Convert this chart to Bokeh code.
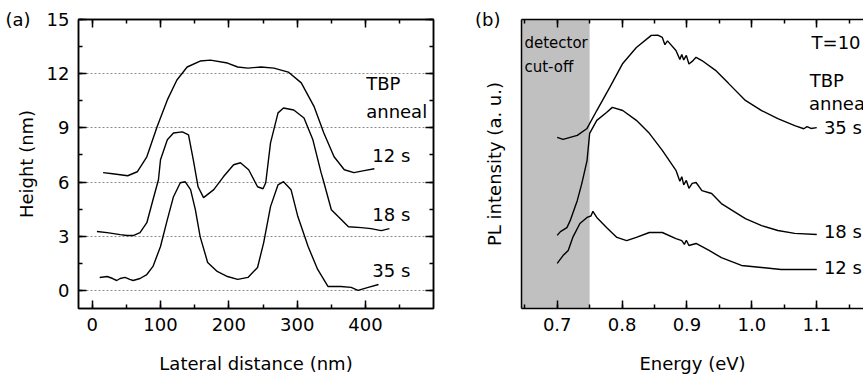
from bokeh.plotting import figure
from bokeh.layouts import row
from bokeh.models import (FixedTicker, SingleIntervalTicker, BasicTicker, LinearAxis, Range1d,
                          BoxAnnotation)
from bokeh.core.properties import value
from bokeh.embed import file_html
from bokeh.resources import INLINE

FONT = "DejaVu Sans"

# ---------------- Panel (a): AFM height profiles ----------------
dist_12s = [16, 30, 52, 66, 80, 95, 110, 124, 139, 158, 173, 198, 213, 228, 247, 266, 287, 306, 325, 339, 354, 369, 383, 398, 413]
height_12s = [6.52, 6.46, 6.35, 6.57, 7.40, 9.06, 10.55, 11.65, 12.37, 12.70, 12.75, 12.59, 12.37, 12.31, 12.37, 12.31, 12.09, 11.49, 10.16, 8.72, 7.40, 6.68, 6.52, 6.63, 6.74]

dist_18s = [7, 22, 41, 51, 60, 70, 80, 89, 97, 100, 110, 119, 132, 141, 148, 155, 163, 178, 192, 207, 217, 229, 242, 250, 254, 261, 272, 280, 295, 310, 323, 335, 338, 350, 360, 375, 394, 408, 423, 435]
height_18s = [3.26, 3.20, 3.09, 3.04, 3.04, 3.20, 3.75, 5.02, 6.13, 7.23, 8.34, 8.72, 8.78, 8.61, 7.23, 5.74, 5.14, 5.58, 6.29, 6.96, 7.07, 6.68, 5.74, 5.63, 5.96, 8.17, 9.83, 10.10, 9.99, 9.55, 8.34, 6.52, 6.13, 4.47, 4.09, 3.53, 3.48, 3.42, 3.31, 3.42]

dist_35s = [11, 22, 30, 36, 41, 48, 55, 60, 70, 80, 89, 100, 110, 119, 129, 136, 144, 151, 158, 169, 183, 198, 213, 228, 242, 251, 261, 272, 280, 291, 301, 316, 330, 345, 364, 379, 389, 404, 419]
height_35s = [0.72, 0.77, 0.66, 0.55, 0.66, 0.72, 0.61, 0.55, 0.66, 0.88, 1.33, 2.43, 3.92, 5.19, 5.96, 6.02, 5.58, 4.47, 2.98, 1.55, 1.05, 0.77, 0.61, 0.72, 1.27, 2.65, 4.64, 5.85, 6.02, 5.58, 4.09, 2.43, 1.16, 0.22, 0.22, 0.17, 0.00, 0.17, 0.33]

a_x_step = 100
a_y_step = 3

a_text = ["TBP", "anneal", "12 s", "18 s", "35 s"]
a_text_x = [401, 401, 410, 410, 410]
a_text_y = [10.9, 9.3, 6.9, 3.6, 0.5]

# ---------------- Panel (b): PL spectra ----------------
e_35s = [0.700, 0.709, 0.731, 0.746, 0.761, 0.781, 0.801, 0.822, 0.845, 0.855, 0.862, 0.866, 0.870, 0.883, 0.889, 0.892, 0.895, 0.899, 0.903, 0.908, 0.914, 0.923, 0.944, 0.964, 0.990, 1.015, 1.040, 1.066, 1.080, 1.085, 1.091, 1.100]
pl_35s = [59.2, 58.5, 59.9, 62.3, 68.5, 76.5, 84.8, 90.3, 94.5, 94.6, 93.8, 91.3, 92.6, 89.3, 86.2, 87.9, 86.0, 87.6, 84.6, 85.5, 86.9, 85.8, 82.4, 77.9, 72.0, 68.5, 65.7, 63.3, 62.2, 62.9, 62.3, 62.6]

e_18s = [0.700, 0.705, 0.715, 0.720, 0.731, 0.738, 0.746, 0.750, 0.761, 0.776, 0.785, 0.801, 0.822, 0.842, 0.862, 0.883, 0.889, 0.892, 0.895, 0.899, 0.903, 0.908, 0.914, 0.923, 0.938, 0.953, 0.990, 1.015, 1.040, 1.066, 1.100]
pl_18s = [25.3, 26.6, 28.0, 30.4, 37.4, 43.3, 51.2, 60.6, 65.1, 67.8, 69.6, 68.5, 65.1, 60.6, 54.7, 47.8, 44.0, 45.6, 42.8, 44.3, 41.6, 43.3, 43.6, 40.8, 39.8, 36.3, 31.1, 28.7, 27.0, 26.0, 25.6]

e_12s = [0.700, 0.709, 0.717, 0.724, 0.735, 0.746, 0.752, 0.755, 0.761, 0.776, 0.792, 0.807, 0.822, 0.842, 0.862, 0.883, 0.892, 0.896, 0.899, 0.903, 0.914, 0.934, 0.953, 0.984, 1.015, 1.045, 1.066, 1.100]
pl_12s = [15.6, 18.3, 20.1, 24.6, 29.4, 31.5, 32.0, 33.6, 31.5, 28.0, 24.6, 23.5, 24.6, 26.3, 26.3, 24.2, 23.5, 22.2, 23.6, 21.8, 22.5, 20.1, 17.6, 14.9, 14.2, 13.5, 13.5, 13.5]

b_xlabels = {1.0: "1.0", "1": "1.0"}
cutoff_start, cutoff_end = 0.645, 0.75

b_text = ["T=10 K", "TBP", "anneal", "35 s", "18 s", "12 s"]
b_text_x = [1.092, 1.089, 1.088, 1.111, 1.111, 1.111]
b_text_y = [88.4, 75.4, 67.4, 58.9, 22.9, 10.4]
b_text2 = ["detector", "cut-off"]
b_text2_x = [0.6495, 0.6495]
b_text2_y = [88.9, 80.4]

panel_a_tick, panel_a_tag = 15, "(a)"
panel_b_tick, panel_b_tag = 100, "(b)"


def style_axis(ax, labels=True):
    ax.axis_line_width = 1.5
    ax.axis_line_color = "black"
    ax.major_tick_in = 8
    ax.major_tick_out = 0
    ax.minor_tick_in = 4
    ax.minor_tick_out = 0
    ax.major_tick_line_width = 1.5
    ax.minor_tick_line_width = 1.5
    ax.major_tick_line_color = "black"
    ax.minor_tick_line_color = "black"
    ax.major_label_text_font = FONT
    ax.axis_label_text_font = FONT
    ax.axis_label_text_font_size = "18px"
    ax.axis_label_text_font_style = "normal"
    ax.axis_label_text_color = "black"
    if labels:
        ax.major_label_text_color = "black"
        ax.major_label_text_font_size = "18px"
    else:
        ax.major_label_text_color = None
        ax.major_label_text_font_size = "1px"
        ax.major_label_standoff = 0


def make_tag(ax, tick, tag, label, standoff, label_standoff):
    style_axis(ax)
    ax.ticker = FixedTicker(ticks=[tick])
    ax.major_label_overrides = {tick: tag, str(tick): tag}
    ax.major_tick_line_color = None
    ax.minor_tick_line_color = None
    ax.major_label_standoff = standoff
    ax.axis_label = label
    ax.axis_label_standoff = label_standoff


# ---- figure (a)
pa = figure(width=440, height=376, x_range=Range1d(-20, 499.5), y_range=Range1d(-1, 15),
            output_backend="svg", toolbar_location=None,
            min_border_left=78, min_border_right=7, min_border_top=19, min_border_bottom=67)
pa.border_fill_color = "white"
pa.outline_line_color = "black"
pa.outline_line_width = 1.5
pa.xgrid.visible = False
pa.ygrid.ticker = SingleIntervalTicker(interval=a_y_step)
pa.ygrid.grid_line_color = "#8a8a8a"
pa.ygrid.grid_line_dash = "2 2"
pa.ygrid.grid_line_width = 1

pa.xaxis.ticker = SingleIntervalTicker(interval=a_x_step, num_minor_ticks=2)
pa.yaxis.ticker = SingleIntervalTicker(interval=a_y_step, num_minor_ticks=2)
pa.xaxis.axis_label = "Lateral distance (nm)"
style_axis(pa.xaxis[0])
style_axis(pa.yaxis[0])
pa.xaxis.major_label_standoff = 9
pa.xaxis.axis_label_standoff = 19
pa.yaxis.major_label_standoff = 9

tag_a = LinearAxis()
make_tag(tag_a, panel_a_tick, panel_a_tag, "Height (nm)", 13, -35)
tag_a.axis_line_color = None
pa.add_layout(tag_a, "left")

top_a = LinearAxis(ticker=BasicTicker(desired_num_ticks=6, num_minor_ticks=2))
style_axis(top_a, labels=False)
pa.add_layout(top_a, "above")
right_a = LinearAxis(ticker=SingleIntervalTicker(interval=a_y_step, num_minor_ticks=2))
style_axis(right_a, labels=False)
pa.add_layout(right_a, "right")

for xs, ys in [(dist_12s, height_12s), (dist_18s, height_18s), (dist_35s, height_35s)]:
    pa.line(xs, ys, line_color="black", line_width=1.4)

pa.text(x=a_text_x, y=a_text_y, text=a_text, text_font=value(FONT), text_font_size="18px",
        text_color="black")

# ---- figure (b)
pb = figure(width=423, height=376, x_range=Range1d(cutoff_start, 1.172), y_range=Range1d(0, 100),
            output_backend="svg", toolbar_location=None,
            min_border_left=81, min_border_right=0, min_border_top=19, min_border_bottom=67)
pb.border_fill_color = "white"
pb.outline_line_color = None
pb.xgrid.visible = False
pb.ygrid.visible = False

pb.add_layout(BoxAnnotation(left=cutoff_start, right=cutoff_end, fill_color="#c0c0c0", fill_alpha=1.0,
                            line_color=None, level="underlay"))

pb.xaxis.ticker = BasicTicker(desired_num_ticks=6, num_minor_ticks=2)
pb.xaxis.major_label_overrides = b_xlabels
pb.xaxis.axis_label = "Energy (eV)"
style_axis(pb.xaxis[0])
pb.xaxis.major_label_standoff = 9
pb.xaxis.axis_label_standoff = 19

make_tag(pb.yaxis[0], panel_b_tick, panel_b_tag, "PL intensity (a. u.)", 21, -33)

top_b = LinearAxis(ticker=BasicTicker(desired_num_ticks=6, num_minor_ticks=2))
style_axis(top_b, labels=False)
pb.add_layout(top_b, "above")

for xs, ys in [(e_35s, pl_35s), (e_18s, pl_18s), (e_12s, pl_12s)]:
    pb.line(xs, ys, line_color="black", line_width=1.4)

pb.text(x=b_text_x, y=b_text_y, text=b_text, text_font=value(FONT), text_font_size="18px",
        text_color="black")
pb.text(x=b_text2_x, y=b_text2_y, text=b_text2, text_font=value(FONT), text_font_size="15px",
        text_color="black")

layout = row(pa, pb)
open("out.html", "w").write(file_html(layout, INLINE))
